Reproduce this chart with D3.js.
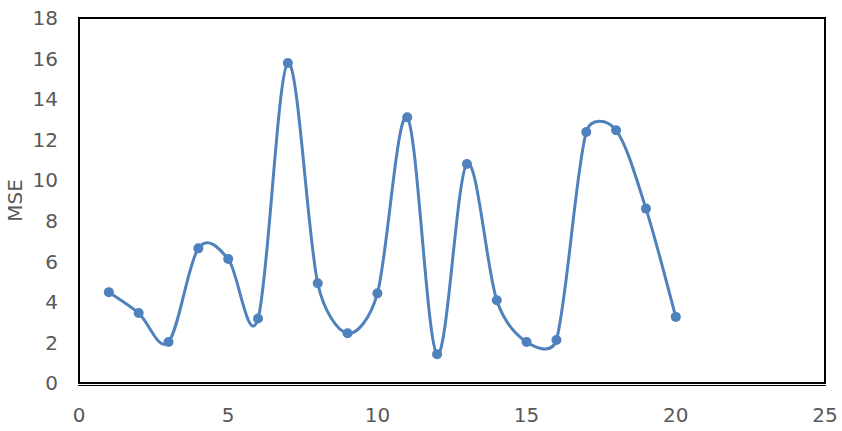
<!DOCTYPE html>
<html>
<head>
<meta charset="utf-8">
<script src="https://cdn.jsdelivr.net/npm/d3@7"></script>
<style>
  html, body { margin: 0; padding: 0; background: #fff; }
  svg { display: block; }
</style>
</head>
<body>
<svg id="chart"></svg>
<script>
// data
var xs = [1, 2, 3, 4, 5, 6, 7, 8, 9, 10, 11, 12, 13, 14, 15, 16, 17, 18, 19, 20];
var mse = [4.48, 3.45, 2.02, 6.64, 6.12, 3.18, 15.78, 4.92, 2.45, 4.42, 13.1, 1.42, 10.8, 4.08, 2.02, 2.12, 12.38, 12.46, 8.6, 3.26];
var xTicks = [0, 5, 10, 15, 20, 25];
var yTicks = [0, 2, 4, 6, 8, 10, 12, 14, 16, 18];

var width = 842, height = 431;
var margin = {top: 18, right: 17, bottom: 48, left: 79};
var blue = "#4f81bd";
var grey = "#595959";
var font = "'DejaVu Sans', sans-serif";

var svg = d3.select("#chart")
    .attr("width", width)
    .attr("height", height);

var x = d3.scaleLinear()
    .domain([0, 25])
    .range([margin.left, width - margin.right]);
var y = d3.scaleLinear()
    .domain([0, 18])
    .range([height - margin.bottom, margin.top]);

// frame round the plot
svg.append("rect")
    .attr("x", x(0))
    .attr("y", y(18))
    .attr("width", x(25) - x(0))
    .attr("height", y(0) - y(18))
    .attr("fill", "none")
    .attr("stroke", "#000")
    .attr("stroke-width", 2);

// thin second line under the frame bottom
svg.append("line")
    .attr("x1", x(0) - 1).attr("x2", x(25) + 1)
    .attr("y1", y(0) + 2.5).attr("y2", y(0) + 2.5)
    .attr("stroke", "#000")
    .attr("stroke-width", 1);

svg.append("g")
    .selectAll("text")
    .data(yTicks)
    .join("text")
    .attr("x", 58)
    .attr("y", d => y(d))
    .attr("dy", "0.36em")
    .attr("text-anchor", "end")
    .attr("fill", grey)
    .style("font", "20px " + font)
    .text(d => d);

svg.append("g")
    .selectAll("text")
    .data(xTicks)
    .join("text")
    .attr("x", d => x(d))
    .attr("y", 422)
    .attr("text-anchor", "middle")
    .attr("fill", grey)
    .style("font", "20px " + font)
    .text(d => d);

svg.append("text")
    .attr("transform", `translate(22,${(y(0) + y(18)) / 2}) rotate(-90)`)
    .attr("text-anchor", "middle")
    .attr("fill", grey)
    .style("font", "20px " + font)
    .text("MSE");

var pts = xs.map((d, i) => [x(d), y(mse[i])]);

// spreadsheet style smoothing: bezier handles of 1/6 of the neighbour chord,
// capped at half the segment length
function smooth(p) {
    var path = d3.path();
    var dist = (a, b) => Math.hypot(b[0] - a[0], b[1] - a[1]);
    path.moveTo(p[0][0], p[0][1]);
    for (var i = 0; i < p.length - 1; i++) {
        var p0 = p[Math.max(i - 1, 0)], p1 = p[i], p2 = p[i + 1], p3 = p[Math.min(i + 2, p.length - 1)];
        var d12 = dist(p1, p2), d02 = dist(p0, p2), d13 = dist(p1, p3);
        var f1 = d02 / 6 < d12 / 2 ? 1 / 6 : d12 / 2 / d02;
        var f2 = d13 / 6 < d12 / 2 ? 1 / 6 : d12 / 2 / d13;
        path.bezierCurveTo(
            p1[0] + (p2[0] - p0[0]) * f1, p1[1] + (p2[1] - p0[1]) * f1,
            p2[0] - (p3[0] - p1[0]) * f2, p2[1] - (p3[1] - p1[1]) * f2,
            p2[0], p2[1]);
    }
    return path.toString();
}

svg.append("path")
    .attr("d", smooth(pts))
    .attr("fill", "none")
    .attr("stroke", blue)
    .attr("stroke-width", 3);

svg.append("g")
    .selectAll("circle")
    .data(pts)
    .join("circle")
    .attr("cx", d => d[0])
    .attr("cy", d => d[1])
    .attr("r", 5)
    .attr("fill", blue);
</script>
</body>
</html>
